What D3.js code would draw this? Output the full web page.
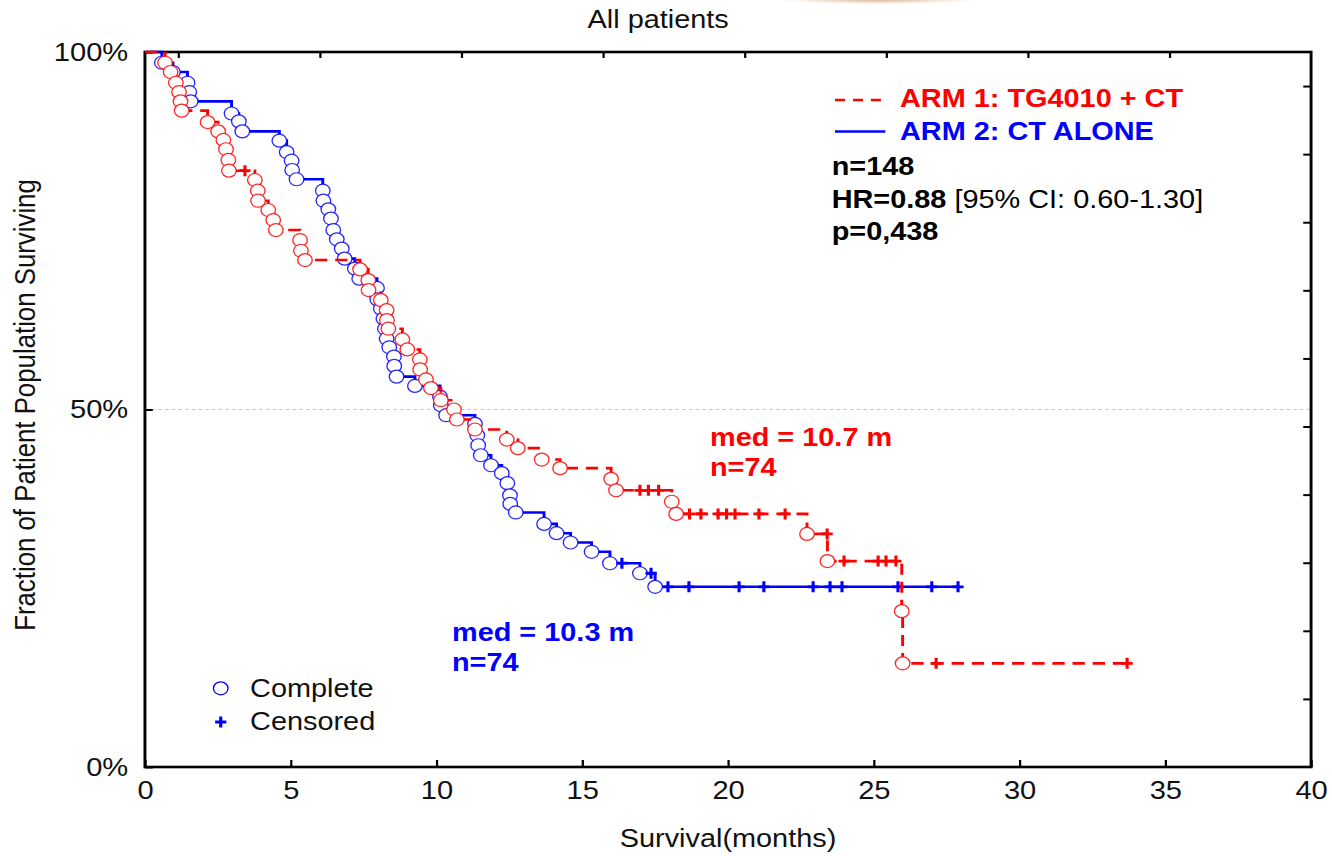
<!DOCTYPE html>
<html>
<head>
<meta charset="utf-8">
<script src="https://cdn.jsdelivr.net/npm/d3@7"></script>
<style>
body { margin: 0; background: #fff; }
svg text { font-family: "Liberation Sans", Arial, sans-serif; }
</style>
</head>
<body>
<script>
// ARM 1: TG4010 + CT -- death times (months) and survival (%) after each death
var arm1Time = [0.69, 0.88, 1.06, 1.17, 1.22, 1.26, 2.15, 2.51, 2.69, 2.78, 2.86, 2.88,
                3.77, 3.87, 3.88, 4.23, 4.40, 4.49, 5.32, 5.35, 5.49, 7.38, 7.66, 7.67,
                8.09, 8.29, 8.30, 8.35, 8.83, 9.00, 9.43, 9.44, 9.64, 9.81, 10.15, 10.60,
                10.70, 11.32, 12.41, 12.79, 13.61, 14.24, 15.99, 16.16, 18.07, 18.22,
                22.71, 23.41, 25.96, 25.99];
var arm1Surv = [98.5, 97.2, 95.7, 94.4, 93.1, 91.8, 90.2, 88.9, 87.7, 86.4, 84.9, 83.4,
                82.1, 80.6, 79.2, 77.9, 76.5, 75.1, 73.7, 72.2, 70.9, 69.6, 68.1, 66.7,
                65.3, 63.9, 62.5, 61.3, 59.8, 58.4, 57.0, 55.6, 54.2, 53.0, 51.3, 50.0,
                48.6, 47.2, 45.8, 44.6, 43.0, 41.8, 40.3, 38.7, 37.1, 35.4,
                32.6, 28.8, 21.8, 14.5];
var arm1Cens = [3.43, 16.98, 17.27, 17.62, 18.68, 19.07, 19.66, 19.95, 20.24, 21.06,
                21.96, 23.40, 23.98, 25.15, 25.42, 25.76, 27.14, 33.69];

// ARM 2: CT ALONE
var arm2Time = [0.58, 0.96, 1.46, 1.52, 1.57, 2.97, 3.22, 3.34, 4.61, 4.86, 5.03, 5.05,
                5.20, 6.10, 6.12, 6.29, 6.38, 6.46, 6.58, 6.75, 6.85, 7.20, 7.35, 7.96,
                7.97, 8.09, 8.18, 8.23, 8.29, 8.38, 8.54, 8.55, 8.63, 9.26, 10.12, 10.15,
                10.33, 11.32, 11.40, 11.43, 11.52, 11.87, 12.24, 12.43, 12.52, 12.53,
                12.72, 13.69, 14.12, 14.60, 15.32, 15.95, 16.98, 17.50];
var arm2Surv = [98.5, 97.2, 95.7, 94.4, 93.1, 91.4, 90.3, 88.9, 87.6, 86.0, 84.8, 83.5,
                82.2, 80.6, 79.2, 78.0, 76.7, 75.1, 73.8, 72.5, 71.1, 69.7, 68.3, 67.0,
                65.4, 64.1, 62.7, 61.3, 59.9, 58.7, 57.4, 56.1, 54.6, 53.3, 51.8, 50.6,
                49.2, 48.0, 46.4, 45.0, 43.6, 42.2, 41.1, 39.7, 38.0, 36.8,
                35.6, 34.0, 32.7, 31.4, 30.1, 28.5, 27.1, 25.2];
var arm2Cens = [16.36, 17.36, 17.94, 18.66, 20.38, 21.23, 22.92, 23.50, 23.91, 25.83,
                26.99, 27.89];

var xTicks = [0, 5, 10, 15, 20, 25, 30, 35, 40];
var yTicks = [0, 50, 100];
var yTickLabels = ["0%", "50%", "100%"];
var topTicks = [0, 1, 2, 3, 4, 5, 6, 7];
var rightTicks = [0.1, 0.2, 0.3, 0.4, 0.5, 0.6, 0.7, 0.8, 0.9, 1.0];

var RED = "#ff0000", BLUE = "#0000ff";
var FS = 25.8;

// the picture is stretched sideways, so draw in a narrower box and let the svg stretch it
var W = 1190, H = 856;
var margin = {top: 52, right: 18.7, bottom: 89, left: 129.5},
    width = W - margin.left - margin.right,
    height = H - margin.top - margin.bottom;

var svg = d3.select("body")
    .append("svg")
    .attr("width", 1332)
    .attr("height", 856)
    .attr("viewBox", "0 0 " + W + " " + H)
    .attr("preserveAspectRatio", "none");

// brownish smudge at the very top edge
var grad = svg.append("defs").append("radialGradient").attr("id", "smudge");
grad.append("stop").attr("offset", "0%").attr("stop-color", "#9a5a22").attr("stop-opacity", 0.9);
grad.append("stop").attr("offset", "100%").attr("stop-color", "#e8c8a0").attr("stop-opacity", 0);
svg.append("ellipse")
    .attr("cx", 784).attr("cy", -3).attr("rx", 100).attr("ry", 8)
    .attr("fill", "url(#smudge)");

var g = svg.append("g")
    .attr("transform", "translate(" + margin.left + "," + margin.top + ")");

var x = d3.scaleLinear().domain([0, 40]).range([0, width]);
var y = d3.scaleLinear().domain([0, 100]).range([height, 0]);
var xTop = d3.scaleLinear().domain([-0.235, 8]).range([0, width]);
var yRight = d3.scaleLinear().domain([0, 1.05]).range([height, 0]);

// 50% reference line
g.append("line")
    .attr("x1", 0).attr("x2", width)
    .attr("y1", y(50)).attr("y2", y(50))
    .attr("stroke", "#c4c4c4")
    .attr("stroke-width", 1.2)
    .attr("stroke-dasharray", "3,3");

//////////////////////////////// axes ////////////////////////////////
var xAxis = g.append("g")
    .attr("transform", "translate(0," + height + ")")
    .call(d3.axisBottom(x).tickValues(xTicks).tickSize(-7).tickPadding(14));
var yAxis = g.append("g")
    .call(d3.axisLeft(y).tickValues(yTicks).tickSize(-7).tickPadding(15)
        .tickFormat(function (d, i) { return yTickLabels[i]; }));
var topAxis = g.append("g")
    .call(d3.axisTop(xTop).tickValues(topTicks).tickSize(-6).tickFormat(""));
var rightAxis = g.append("g")
    .attr("transform", "translate(" + width + ",0)")
    .call(d3.axisRight(yRight).tickValues(rightTicks).tickSize(-7).tickFormat(""));

[xAxis, yAxis, topAxis, rightAxis].forEach(function (a) {
    a.select(".domain").remove();
    a.selectAll("line").attr("stroke", "#000").attr("stroke-width", 2);
    a.selectAll("text")
        .attr("fill", "#111")
        .style("font-family", '"Liberation Sans", Arial, sans-serif')
        .style("font-size", "26px");
});

g.append("rect")
    .attr("width", width).attr("height", height)
    .attr("fill", "none")
    .attr("stroke", "#000")
    .attr("stroke-width", 2.6);

//////////////////////////////// curves ////////////////////////////////
var line = d3.line()
    .x(function (d) { return x(d[0]); })
    .y(function (d) { return y(d[1]); })
    .curve(d3.curveStepAfter);

function levelAt(times, surv, t) {
    var i = d3.bisectRight(times, t);
    return i === 0 ? 100 : surv[i - 1];
}

function drawArm(times, surv, cens, color, dash) {
    var pts = [[0, 100]];
    times.forEach(function (t, i) { pts.push([t, surv[i]]); });
    var endT = d3.max(cens);
    pts.push([endT, levelAt(times, surv, endT)]);

    g.append("path")
        .datum(pts)
        .attr("d", line)
        .attr("fill", "none")
        .attr("stroke", color)
        .attr("stroke-width", 2.6)
        .attr("stroke-dasharray", dash);

    // complete (death) markers, white inside so they hide the line
    g.selectAll(null)
        .data(times)
        .enter()
        .append("circle")
        .attr("cx", function (d) { return x(d); })
        .attr("cy", function (d, i) { return y(surv[i]); })
        .attr("r", 6.5)
        .attr("fill", "#fff")
        .attr("stroke", color)
        .attr("stroke-opacity", 0.85)
        .attr("stroke-width", 1.2);

    // censored markers
    g.selectAll(null)
        .data(cens)
        .enter()
        .append("path")
        .attr("d", "M-5,0H5M0,-5.5V5.5")
        .attr("transform", function (d) {
            return "translate(" + x(d) + "," + y(levelAt(times, surv, d)) + ")";
        })
        .attr("stroke", color)
        .attr("stroke-width", 2.8);
}

drawArm(arm2Time, arm2Surv, arm2Cens, BLUE, null);
drawArm(arm1Time, arm1Surv, arm1Cens, RED, "11,7");

//////////////////////////////// texts ////////////////////////////////
svg.append("text")
    .attr("x", 588).attr("y", 28)
    .attr("text-anchor", "middle")
    .attr("font-size", FS)
    .attr("fill", "#111")
    .text("All patients");

svg.append("text")
    .attr("x", 650.4).attr("y", 847)
    .attr("text-anchor", "middle")
    .attr("font-size", FS)
    .attr("fill", "#111")
    .text("Survival(months)");

svg.append("text")
    .attr("transform", "translate(22.3,405) rotate(-90)")
    .attr("text-anchor", "middle")
    .attr("dy", "0.35em")
    .attr("font-size", FS)
    .attr("fill", "#111")
    .text("Fraction of Patient Population Surviving");

// legend, top right
svg.append("line")
    .attr("x1", 746).attr("x2", 791).attr("y1", 100).attr("y2", 100)
    .attr("stroke", RED).attr("stroke-width", 2.4).attr("stroke-dasharray", "9,7");
svg.append("line")
    .attr("x1", 746).attr("x2", 791).attr("y1", 131.5).attr("y2", 131.5)
    .attr("stroke", BLUE).attr("stroke-width", 2.4);

var infoText = [
    {t: "ARM 1: TG4010 + CT", x: 804, y: 107, c: RED},
    {t: "ARM 2: CT ALONE", x: 804, y: 140.5, c: BLUE},
    {t: "n=148", x: 743, y: 175, c: "#000"},
    {t: "p=0,438", x: 743, y: 240, c: "#000"},
    {t: "med = 10.7 m", x: 634.3, y: 446, c: RED},
    {t: "n=74", x: 634.3, y: 476, c: RED},
    {t: "med = 10.3 m", x: 403.8, y: 641, c: BLUE},
    {t: "n=74", x: 403.8, y: 671, c: BLUE}
];
svg.selectAll(".info")
    .data(infoText)
    .enter()
    .append("text")
    .attr("class", "info")
    .attr("x", function (d) { return d.x; })
    .attr("y", function (d) { return d.y; })
    .attr("font-size", FS)
    .attr("font-weight", "bold")
    .attr("fill", function (d) { return d.c; })
    .text(function (d) { return d.t; });

var hr = svg.append("text")
    .attr("x", 743).attr("y", 208)
    .attr("font-size", FS)
    .attr("fill", "#000");
hr.append("tspan").attr("font-weight", "bold").text("HR=0.88");
hr.append("tspan").text(" [95% CI: 0.60-1.30]");

// marker legend, bottom left
svg.append("circle")
    .attr("cx", 197.2).attr("cy", 688.3).attr("r", 6.5)
    .attr("fill", "none").attr("stroke", BLUE).attr("stroke-width", 1.2);
svg.append("path")
    .attr("d", "M-5,0H5M0,-5.5V5.5")
    .attr("transform", "translate(197.2,722)")
    .attr("stroke", BLUE).attr("stroke-width", 2.8);
svg.append("text")
    .attr("x", 223.4).attr("y", 697)
    .attr("font-size", FS).attr("fill", "#111")
    .text("Complete");
svg.append("text")
    .attr("x", 223.4).attr("y", 730)
    .attr("font-size", FS).attr("fill", "#111")
    .text("Censored");
</script>
</body>
</html>
